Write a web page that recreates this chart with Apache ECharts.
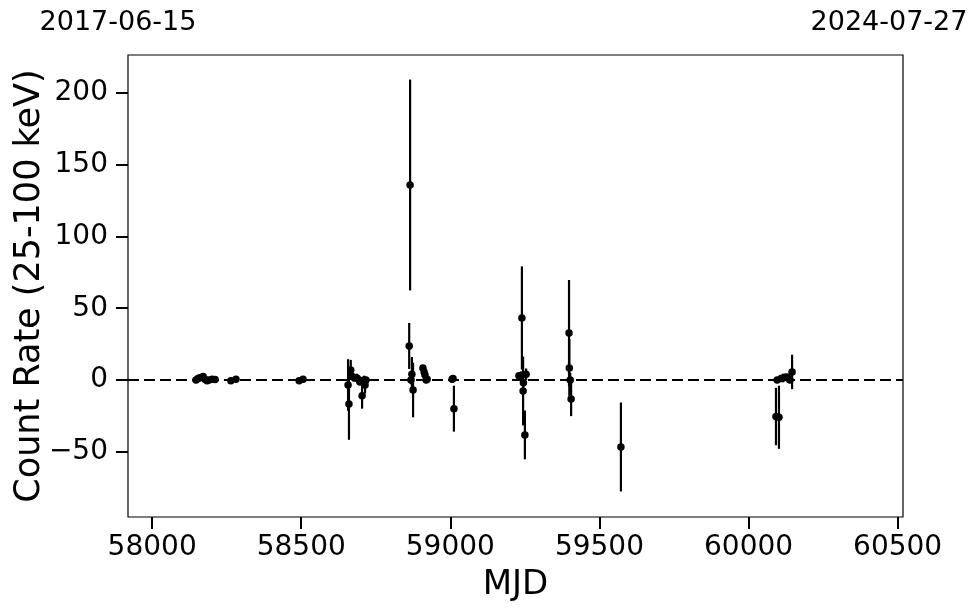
<!DOCTYPE html>
<html>
<head>
<meta charset="utf-8">
<script src="https://cdn.jsdelivr.net/npm/echarts@6/dist/echarts.min.js"></script>
<style>html,body{margin:0;padding:0;background:#fff}#c{width:980px;height:613px}</style>
</head>
<body>
<div id="c"></div>
<script>
const mjd = [58147,58154,58160,58171,58177,58184,58191,58201,58211,58264,58281,58493,58506,
  58657,58660,58666,58674,58680,58687,58694,58697,58704,58711,58714,58717,
  58862,58865,58868,58871,58875,58908,58912,58915,58919,58922,
  59006,59009,59012,
  59230,59237,59240,59244,59245,59250,59254,
  59398,59399,59402,59405,
  59572,
  60092,60096,60102,60109,60116,60126,60132,60139,60146];
const rate = [0,1,1.5,2.5,0.5,-0.5,0,0.5,0.3,-0.5,0.5,-0.5,0.5,
  -3.5,-16.7,7,2,1.4,1.4,0,-1.4,-11,0,-3.5,0,
  23.7,135.9,0,4,-7,8.4,5.5,3.5,0,0.5,
  0.5,1,-20,
  3,3,43.2,-7.7,-2,-38.3,4,
  32.7,8.4,0,-13.2,
  -46.7,
  -25.5,0,-26,1,1.4,2,1.4,0,5.6];
const rateErr = [1,1.5,2,2,1,1,1,1,1,1,1,1,1,
  18,25,7,3,2,3,2,2,9,3,6,2,
  16,73.5,3,12,19,2,3,2,2,2,
  2,2,16,
  2,3,36,24,3,17,4,
  37,20,5,12,
  31,
  20,2,22,2,3,2,3,2,12];
const xTicks = [58000,58500,59000,59500,60000,60500];
const yTicks = [-50,0,50,100,150,200];
const topLabels = ['2017-06-15','2024-07-27'];
const xRange = [57919,60518];
const yRange = [-95.5,226.5];

const pts = mjd.map((m,i)=>[m,rate[i],rateErr[i]]);
const FONT = 'DejaVu Sans';
const minus = v => String(v).replace('-', '\u2212');

const chart = echarts.init(document.getElementById('c'));
chart.setOption({
  animation:false,
  grid:{left:128,right:77,top:55,bottom:96,show:true,borderColor:'#000',borderWidth:1.2,backgroundColor:'transparent',
    containLabel:false,outerBoundsMode:'none'},
  xAxis:{type:'value',min:xRange[0],max:xRange[1],
    name:'MJD',nameLocation:'middle',nameGap:51,nameMoveOverlap:false,
    nameTextStyle:{fontFamily:FONT,fontSize:34,color:'#000'},
    axisLine:{show:false,onZero:false},
    axisTick:{show:true,customValues:xTicks,length:12,lineStyle:{color:'#000',width:2}},
    axisLabel:{customValues:xTicks,fontFamily:FONT,fontSize:28,color:'#000',margin:17,formatter:v=>String(v)},
    splitLine:{show:false}},
  yAxis:{type:'value',min:yRange[0],max:yRange[1],
    name:'Count Rate (25-100 keV)',nameLocation:'middle',nameGap:81,nameMoveOverlap:false,
    nameTextStyle:{fontFamily:FONT,fontSize:35,color:'#000'},
    axisLine:{show:false,onZero:false},
    axisTick:{show:true,customValues:yTicks,length:12,lineStyle:{color:'#000',width:2}},
    axisLabel:{customValues:yTicks,fontFamily:FONT,fontSize:28,color:'#000',margin:20,formatter:minus},
    splitLine:{show:false}},
  graphic:[
    {type:'text',x:118,y:23,style:{text:topLabels[0],font:'27px "DejaVu Sans"',fill:'#000',align:'center',verticalAlign:'middle'}},
    {type:'text',x:889,y:23,style:{text:topLabels[1],font:'27px "DejaVu Sans"',fill:'#000',align:'center',verticalAlign:'middle'}}
  ],
  series:[
    {type:'custom',data:pts,clip:true,
      renderItem:(params,api)=>{
        const x=api.value(0),y=api.value(1),e=api.value(2);
        const p1=api.coord([x,y-e]),p2=api.coord([x,y+e]);
        return {type:'line',shape:{x1:p1[0],y1:p1[1],x2:p2[0],y2:p2[1]},style:{stroke:'#000',lineWidth:2.2}};
      },
      encode:{x:0,y:1},z:2},
    {type:'scatter',data:pts.map(p=>[p[0],p[1]]),symbol:'circle',symbolSize:7.5,
      itemStyle:{color:'#000',opacity:1},z:3,
      markLine:{silent:true,symbol:'none',label:{show:false},
        lineStyle:{color:'#000',width:2,type:[11,5],opacity:1},
        data:[{yAxis:0}]}}
  ]
});
</script>
</body>
</html>
